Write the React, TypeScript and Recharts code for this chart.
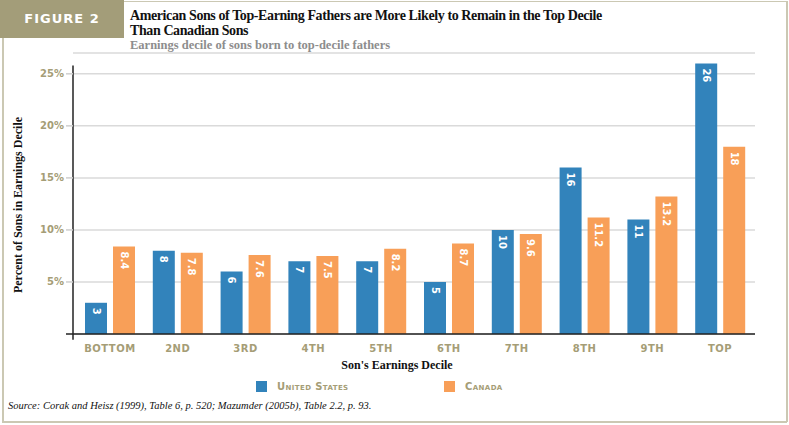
import { Bar, BarChart, CartesianGrid, LabelList, ReferenceLine, XAxis, YAxis } from 'recharts'

const deciles = ['BOTTOM', '2ND', '3RD', '4TH', '5TH', '6TH', '7TH', '8TH', '9TH', 'TOP']
const unitedStates = [3, 8, 6, 7, 7, 5, 10, 16, 11, 26]
const canada = [8.4, 7.8, 7.6, 7.5, 8.2, 8.7, 9.6, 11.2, 13.2, 18]
const yTicks = [0, 5, 10, 15, 20, 25]

const data = deciles.map((decile, i) => ({ decile, us: unitedStates[i], ca: canada[i] }))

const BLUE = '#3283bb'
const ORANGE = '#f89f58'
const OLIVE = '#a59d76'
const FRAME = '#cbc8b3'
const SANS = '"DejaVu Sans", sans-serif'
const SERIF = '"Liberation Serif", serif'

const series = [
  { key: 'us', name: 'United States', color: BLUE },
  { key: 'ca', name: 'Canada', color: ORANGE },
]

function BarLabel(props: any) {
  const { x, y, width, value } = props
  const cx = x + width / 2
  const ty = y + 5
  return (
    <text
      x={cx}
      y={ty}
      transform={`rotate(90 ${cx} ${ty})`}
      textAnchor="start"
      dominantBaseline="central"
      fill="#fff"
      fontSize={10}
      fontWeight="bold"
      fontFamily={SANS}
    >
      {value}
    </text>
  )
}

// y tick: label plus the short stub left of the axis (black at 0, grey elsewhere)
function YTick(props: any) {
  const { x, y, payload } = props
  const v = payload.value
  return (
    <g>
      <line
        x1={x + 2}
        x2={x + 9}
        y1={y}
        y2={y}
        stroke={v === 0 ? '#222' : '#cfcfcf'}
        strokeWidth={1.5}
      />
      {v !== 0 && (
        <text
          x={x}
          y={y}
          textAnchor="end"
          dominantBaseline="central"
          fill={OLIVE}
          fontSize={10}
          fontWeight="bold"
          fontFamily={SANS}
        >
          {`${v}%`}
        </text>
      )}
    </g>
  )
}

export default function App() {
  return (
    <div style={{ position: 'absolute', left: 0, top: 0, width: 789, height: 425, background: '#fff', overflow: 'hidden' }}>
      {/* frame */}
      <div style={{ position: 'absolute', left: 124, top: 1, width: 662, height: 1, background: FRAME }} />
      <div style={{ position: 'absolute', left: 786, top: 1, width: 1.5, height: 421, background: FRAME }} />
      <div style={{ position: 'absolute', left: 2, top: 38, width: 1.5, height: 384, background: FRAME }} />
      <div style={{ position: 'absolute', left: 2, top: 421, width: 785, height: 1.5, background: FRAME }} />
      <div
        style={{
          position: 'absolute',
          left: 0,
          top: 0,
          width: 124,
          height: 38,
          background: '#a39d79',
          color: '#fff',
          fontFamily: SANS,
          fontWeight: 'bold',
          fontSize: 13,
          letterSpacing: 1,
          lineHeight: '38px',
          textAlign: 'center',
        }}
      >
        FIGURE 2
      </div>
      <div
        style={{
          position: 'absolute',
          left: 130,
          top: 8,
          fontFamily: SERIF,
          fontWeight: 'bold',
          fontSize: 14,
          lineHeight: '15px',
          letterSpacing: -0.4,
          color: '#111',
        }}
      >
        American Sons of Top-Earning Fathers are More Likely to Remain in the Top Decile
        <br />
        Than Canadian Sons
      </div>
      <div
        style={{
          position: 'absolute',
          left: 130,
          top: 38,
          fontFamily: SERIF,
          fontWeight: 'bold',
          fontSize: 12.5,
          color: '#8d8d8d',
        }}
      >
        Earnings decile of sons born to top-decile fathers
      </div>

      <BarChart
        width={789}
        height={425}
        data={data}
        margin={{ top: 53, right: 34, bottom: 61, left: 0 }}
        barSize={22}
        barGap={6}
        style={{ position: 'absolute', left: 0, top: 0 }}
      >
        <CartesianGrid vertical={false} stroke="#dadada" strokeWidth={1.5} />
        <XAxis
          dataKey="decile"
          height={30}
          padding={{ left: 3, right: 1 }}
          axisLine={{ stroke: '#222', strokeWidth: 1.5 }}
          tickLine={false}
          tickSize={9}
          tick={{ fill: OLIVE, fontSize: 10, fontWeight: 'bold', fontFamily: SANS, letterSpacing: 0.5 }}
        />
        <XAxis xAxisId="n" type="number" domain={[0, 1]} allowDataOverflow hide />
        <YAxis
          width={73}
          domain={[0, 27]}
          ticks={yTicks}
          axisLine={false}
          tickLine={false}
          tickSize={7}
          tickMargin={2}
          tick={YTick}
        />
        {series.map((s) => (
          <Bar key={s.key} dataKey={s.key} name={s.name} fill={s.color} isAnimationActive={false}>
            <LabelList dataKey={s.key} content={BarLabel} />
          </Bar>
        ))}
        <ReferenceLine
          xAxisId="n"
          segment={[{ x: 0, y: -0.55 }, { x: 0, y: 25.8 }]}
          stroke="#222"
          strokeWidth={1.5}
          ifOverflow="visible"
        />
      </BarChart>

      {/* legend */}
      <div style={{ position: 'absolute', left: 256, top: 381, display: 'flex' }}>
        {series.map((s) => (
          <div key={s.key} style={{ width: 188, display: 'flex', alignItems: 'center' }}>
            <span style={{ width: 11, height: 11, background: s.color, display: 'inline-block', marginRight: 10 }} />
            <span
              style={{
                fontFamily: SANS,
                fontWeight: 'bold',
                fontSize: 10,
                fontVariant: 'small-caps',
                color: OLIVE,
                letterSpacing: 0.4,
              }}
            >
              {s.name}
            </span>
          </div>
        ))}
      </div>

      <div
        style={{
          position: 'absolute',
          left: 18,
          top: 205,
          transform: 'translate(-50%, -50%) rotate(-90deg)',
          whiteSpace: 'nowrap',
          fontFamily: SERIF,
          fontWeight: 'bold',
          fontSize: 12,
          color: '#111',
        }}
      >
        Percent of Sons in Earnings Decile
      </div>
      <div
        style={{
          position: 'absolute',
          left: 397,
          top: 358,
          transform: 'translateX(-50%)',
          whiteSpace: 'nowrap',
          fontFamily: SERIF,
          fontWeight: 'bold',
          fontSize: 12,
          color: '#111',
        }}
      >
        Son's Earnings Decile
      </div>
      <div
        style={{
          position: 'absolute',
          left: 8,
          top: 400,
          whiteSpace: 'nowrap',
          fontFamily: SERIF,
          fontStyle: 'italic',
          fontSize: 10.5,
          color: '#111',
        }}
      >
        Source: Corak and Heisz (1999), Table 6, p. 520; Mazumder (2005b), Table 2.2, p. 93.
      </div>
    </div>
  )
}
